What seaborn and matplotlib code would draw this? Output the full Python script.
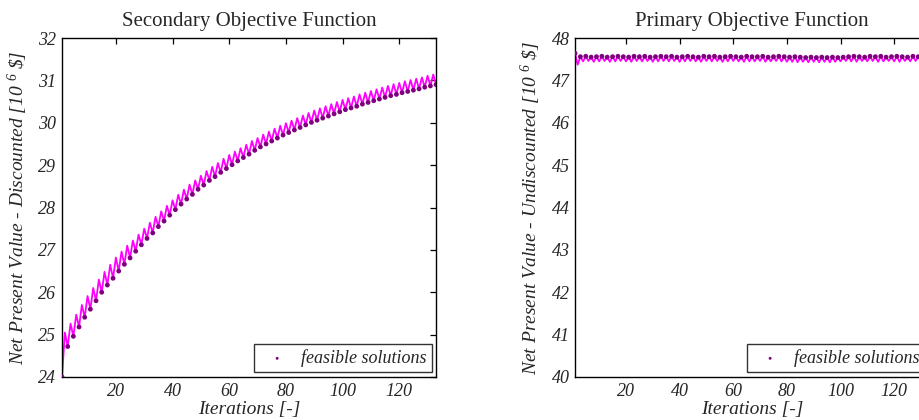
import numpy as np
import pandas as pd
import matplotlib
matplotlib.use('Agg')
import matplotlib.pyplot as plt
import seaborn as sns

# iterations 1..133, odd ones are feasible (dots), even ones are the infeasible steps
iterations = np.arange(1, 134)

# secondary objective (discounted NPV), feasible points at odd iterations
disc_feasible = [24.00, 24.72, 24.96, 25.18, 25.41, 25.60, 25.80, 26.00, 26.17, 26.33,
                 26.50, 26.66, 26.81, 26.97, 27.12, 27.27, 27.40, 27.55, 27.68, 27.82,
                 27.95, 28.08, 28.20, 28.31, 28.43, 28.53, 28.64, 28.73, 28.83, 28.92,
                 29.01, 29.10, 29.18, 29.26, 29.35, 29.43, 29.50, 29.57, 29.64, 29.71,
                 29.77, 29.83, 29.89, 29.95, 30.01, 30.06, 30.11, 30.16, 30.21, 30.26,
                 30.31, 30.35, 30.39, 30.44, 30.48, 30.52, 30.56, 30.60, 30.64, 30.67,
                 30.71, 30.74, 30.77, 30.80, 30.84, 30.87, 30.90]
# peaks at even iterations
disc_other = [25.05, 25.26, 25.47, 25.70, 25.91, 26.10, 26.30, 26.48, 26.65, 26.82,
              26.96, 27.10, 27.22, 27.36, 27.50, 27.64, 27.78, 27.91, 28.04, 28.17,
              28.30, 28.42, 28.54, 28.64, 28.75, 28.86, 28.96, 29.05, 29.15, 29.24,
              29.32, 29.40, 29.48, 29.57, 29.64, 29.72, 29.79, 29.86, 29.93, 29.99,
              30.05, 30.11, 30.17, 30.23, 30.29, 30.34, 30.39, 30.44, 30.49, 30.54,
              30.58, 30.62, 30.67, 30.71, 30.75, 30.79, 30.83, 30.87, 30.91, 30.94,
              30.98, 31.01, 31.04, 31.07, 31.11, 31.14]

# primary objective (undiscounted NPV)
undisc_feasible = [47.64, 47.56, 47.57, 47.55, 47.56, 47.57, 47.55, 47.56, 47.57, 47.56,
                   47.55, 47.57, 47.56, 47.57, 47.55, 47.56, 47.57, 47.56, 47.57, 47.55,
                   47.56, 47.57, 47.56, 47.55, 47.57, 47.56, 47.57, 47.55, 47.56, 47.57,
                   47.56, 47.55, 47.57, 47.56, 47.56, 47.57, 47.55, 47.56, 47.57, 47.56,
                   47.55, 47.56, 47.55, 47.54, 47.55, 47.54, 47.55, 47.54, 47.55, 47.54,
                   47.55, 47.56, 47.57, 47.56, 47.55, 47.57, 47.56, 47.57, 47.55, 47.56,
                   47.57, 47.56, 47.55, 47.57, 47.56, 47.57, 47.56]
undisc_other = [47.37, 47.45, 47.46, 47.44, 47.45, 47.46, 47.44, 47.45, 47.46, 47.45,
                47.44, 47.46, 47.45, 47.46, 47.44, 47.45, 47.46, 47.45, 47.46, 47.44,
                47.45, 47.46, 47.45, 47.44, 47.46, 47.45, 47.46, 47.44, 47.45, 47.46,
                47.45, 47.44, 47.45, 47.45, 47.46, 47.44, 47.45, 47.46, 47.45, 47.44,
                47.44, 47.43, 47.44, 47.43, 47.44, 47.43, 47.44, 47.43, 47.44, 47.45,
                47.46, 47.45, 47.44, 47.46, 47.45, 47.46, 47.44, 47.45, 47.46, 47.45,
                47.44, 47.46, 47.45, 47.46, 47.45, 47.45]

x_ticks = [20, 40, 60, 80, 100, 120]


def build(feasible, other):
    vals = np.empty(len(iterations))
    vals[0::2] = feasible
    vals[1::2] = other
    return pd.DataFrame({'it': iterations, 'npv': vals})


df_disc = build(disc_feasible, disc_other)
df_undisc = build(undisc_feasible, undisc_other)

sns.set_theme(style='white')
plt.rcParams['font.family'] = ['Liberation Serif', 'DejaVu Serif']
plt.rcParams['mathtext.fontset'] = 'custom'
plt.rcParams['mathtext.rm'] = 'Liberation Serif:italic'
plt.rcParams['mathtext.it'] = 'Liberation Serif:italic'
plt.rcParams['axes.edgecolor'] = 'black'
plt.rcParams['axes.linewidth'] = 1.0

fig = plt.figure(figsize=(9.19, 4.2), dpi=100)
ax1 = fig.add_axes([0.0675, 0.1024, 0.407, 0.807])
ax2 = fig.add_axes([0.6257, 0.1024, 0.3852, 0.807])

panels = [
    (ax1, df_disc, 'Secondary Objective Function',
     r'Net Present Value - Discounted [10 $^6$ \$]', (24, 32)),
    (ax2, df_undisc, 'Primary Objective Function',
     r'Net Present Value - Undiscounted [10 $^6$ \$]', (40, 48)),
]

for ax, df, title, ylab, ylim in panels:
    sns.lineplot(data=df, x='it', y='npv', ax=ax, color='#ff00ff', lw=1.3, legend=False)
    feas = df.iloc[0::2]
    sns.scatterplot(data=feas, x='it', y='npv', ax=ax, color='#800080', s=12,
                    edgecolor='none', label='feasible solutions', zorder=3)
    ax.set_xlim(1, 133)
    ax.set_ylim(*ylim)
    ax.set_xticks(x_ticks)
    ax.set_yticks(range(ylim[0], ylim[1] + 1))
    ax.tick_params(direction='in', top=True, right=True, length=4, width=0.9,
                   color='black', labelsize=13, pad=4)
    for lab in ax.get_xticklabels() + ax.get_yticklabels():
        lab.set_fontstyle('italic')
    ax.set_title(title, fontsize=15, pad=9)
    ax.set_xlabel('Iterations [-]', fontsize=14, fontstyle='italic', labelpad=1)
    ax.set_ylabel(ylab, fontsize=14, fontstyle='italic', labelpad=6)
    leg = ax.legend(loc='lower right', fontsize=13, frameon=True, fancybox=False,
                    borderaxespad=0.25, handletextpad=0.3, borderpad=0.3,
                    markerscale=0.6)
    leg.get_frame().set_edgecolor('black')
    leg.get_frame().set_linewidth(1.0)
    for t in leg.get_texts():
        t.set_fontstyle('italic')
    for s in ax.spines.values():
        s.set_color('black')

fig.savefig('out.png', dpi=100)
